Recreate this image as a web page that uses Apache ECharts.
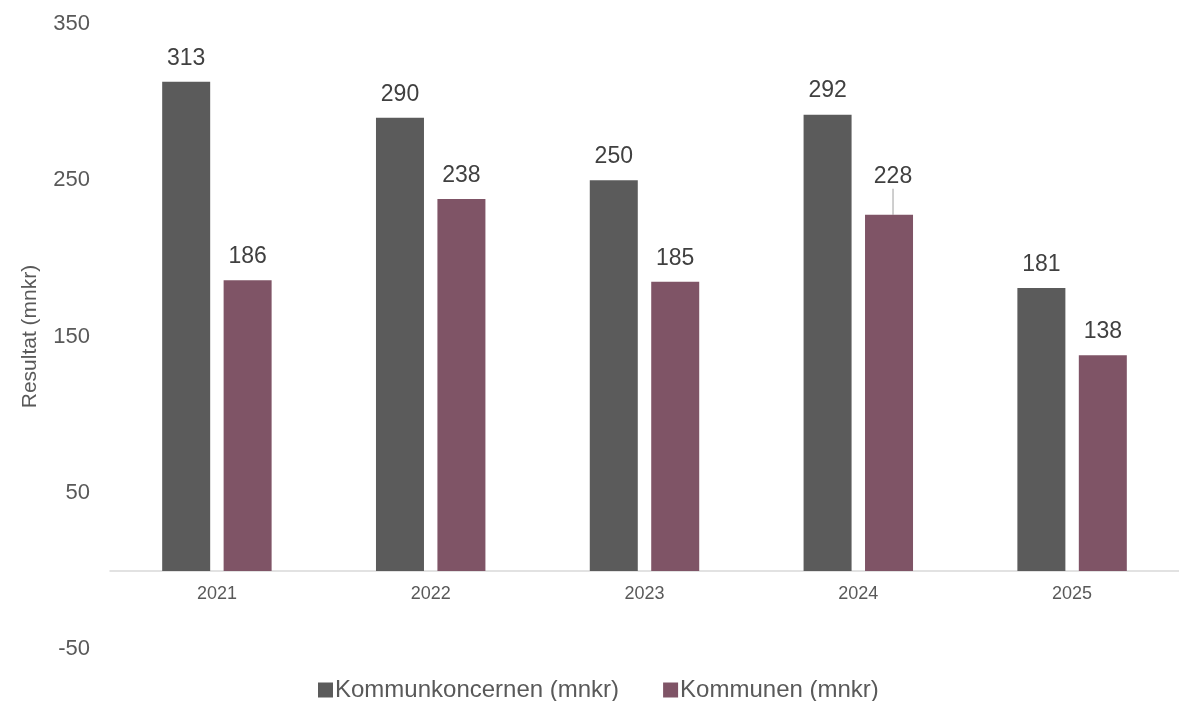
<!DOCTYPE html>
<html>
<head>
<meta charset="utf-8">
<script src="https://cdn.jsdelivr.net/npm/echarts@6/dist/echarts.min.js"></script>
<style>html,body{margin:0;padding:0;background:#fff}#c{width:1179px;height:701px}</style>
</head>
<body>
<div id="c"></div>
<script>
const categories = ['2021', '2022', '2023', '2024', '2025'];
const koncernen = [313, 290, 250, 292, 181];
const kommunen = [186, 238, 185, 228, 138];
const seriesNames = ['Kommunkoncernen (mnkr)', 'Kommunen (mnkr)'];
const yTicks = [-50, 50, 150, 250, 350];

const chart = echarts.init(document.getElementById('c'));
const font = 'Liberation Sans, Arial, sans-serif';
const labelCfg = {show: true, position: 'top', distance: 12, color: '#404040', fontSize: 23, fontFamily: font};
chart.setOption({
  animation: false,
  grid: {left: 110, top: 24, width: 1081, height: 625, containLabel: false},
  legend: {
    data: seriesNames, top: 673, left: 313, itemWidth: 15, itemHeight: 15, itemGap: 44,
    icon: 'rect',
    textStyle: {color: '#595959', fontSize: 24, fontFamily: font, padding: [0,0,0,-3]}
  },
  xAxis: {
    type: 'category', data: categories,
    axisLine: {onZero: true, lineStyle: {color: '#d9d9d9', width: 1.5}},
    axisTick: {show: false},
    axisLabel: {color: '#595959', fontSize: 18, fontFamily: font, margin: -64}
  },
  yAxis: {
    type: 'value', min: yTicks[0], max: yTicks[yTicks.length - 1], interval: 100,
    name: 'Resultat (mnkr)', nameLocation: 'middle', nameGap: 69, nameRotate: 90,
    nameTextStyle: {color: '#595959', fontSize: 21, fontFamily: font},
    axisLine: {show: false}, axisTick: {show: false}, splitLine: {show: false},
    axisLabel: {color: '#595959', fontSize: 22, fontFamily: font, margin: 20}
  },
  series: [
    {name: seriesNames[0], type: 'bar', data: koncernen, barWidth: 48, barGap: '28%',
     itemStyle: {color: '#5b5b5b'}, label: labelCfg},
    {name: seriesNames[1], type: 'bar', barWidth: 48,
     data: kommunen.map((v, i) => i === 3 ? {value: v, labelLine: {show: true}} : {value: v}),
     itemStyle: {color: '#7f5466'}, label: labelCfg,
     labelLine: {show: false, lineStyle: {color: '#bfbfbf', width: 1.5}},
     labelLayout: function (p) { return p.dataIndex === 3 ? {dx: 4, dy: -14} : {}; }}
  ]
});
</script>
</body>
</html>
